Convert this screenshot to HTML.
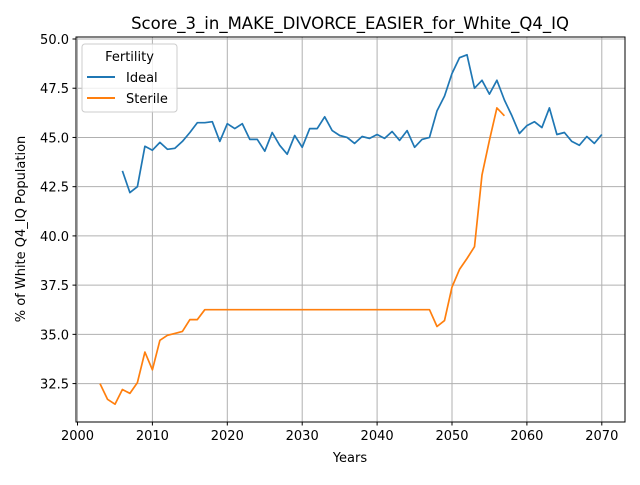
<!DOCTYPE html>
<html><head><meta charset="utf-8"><style>
body{margin:0;background:#fff;}
svg text{font-family:"DejaVu Sans","Liberation Sans",sans-serif;fill:#000;}
</style></head><body>
<svg id="chart" width="640" height="480" xmlns="http://www.w3.org/2000/svg">
<rect width="640" height="480" fill="#fff"/>
<g id="grid"></g>
<g id="series"></g>
<rect x="76" y="37" width="549" height="385" fill="none" stroke="#000" stroke-width="1"/>
<g id="ticks"></g>
<text x="350" y="29" font-size="16.5" text-anchor="middle">Score_3_in_MAKE_DIVORCE_EASIER_for_White_Q4_IQ</text>
<text x="350" y="462" font-size="13" text-anchor="middle">Years</text>
<text transform="translate(25,229) rotate(-90)" font-size="13" text-anchor="middle">% of White Q4_IQ Population</text>
<g>
<rect x="82" y="44" width="95" height="68" rx="3" fill="#fff" fill-opacity="0.8" stroke="#ccc"/>
<text x="129.5" y="61" font-size="13" text-anchor="middle">Fertility</text>
<line x1="87" y1="77" x2="115" y2="77" stroke="#1f77b4" stroke-width="2"/>
<text x="126" y="82" font-size="13">Ideal</text>
<line x1="87" y1="98" x2="115" y2="98" stroke="#ff7f0e" stroke-width="2"/>
<text x="126" y="103" font-size="13">Sterile</text>
</g>
</svg>
<script>
const idealYears = [];
for (let y = 2006; y <= 2070; y++) idealYears.push(y);
const idealValues = [43.3,42.2,42.5,44.55,44.35,44.75,44.4,44.45,44.8,45.25,45.75,45.75,45.8,44.8,45.7,45.45,45.7,44.9,44.9,44.3,45.25,44.6,44.15,45.1,44.5,45.45,45.45,46.05,45.35,45.1,45.0,44.7,45.05,44.95,45.15,44.95,45.3,44.85,45.35,44.5,44.9,45.0,46.35,47.1,48.25,49.05,49.2,47.5,47.9,47.2,47.9,46.9,46.1,45.2,45.6,45.8,45.5,46.5,45.15,45.25,44.8,44.6,45.05,44.7,45.15];
const sterileYears = [];
for (let y = 2003; y <= 2057; y++) sterileYears.push(y);
const sterileValues = [32.5,31.7,31.45,32.2,32.0,32.55,34.1,33.2,34.7,34.95,35.05,35.15,35.75,35.75,
36.25,36.25,36.25,36.25,36.25,36.25,36.25,36.25,36.25,36.25,36.25,36.25,36.25,36.25,36.25,36.25,36.25,36.25,36.25,36.25,36.25,36.25,36.25,36.25,36.25,36.25,36.25,36.25,36.25,36.25,36.25,
35.4,35.7,37.4,38.3,38.85,39.45,43.1,44.85,46.5,46.1];
const xTicks = [2000,2010,2020,2030,2040,2050,2060,2070];
const yTicks = [32.5,35.0,37.5,40.0,42.5,45.0,47.5,50.0];

const NS = "http://www.w3.org/2000/svg";
function xs(v){ return 77.5 + (v - 2000) * 7.49; }
function ys(v){ return 39 + (50 - v) * 19.69; }
function mk(tag, attrs, parent){ const e = document.createElementNS(NS, tag); for (const k in attrs) e.setAttribute(k, attrs[k]); parent.appendChild(e); return e; }

const grid = document.getElementById('grid');
const ticks = document.getElementById('ticks');
xTicks.forEach(t => {
  const g = mk('line', {x1: xs(t), x2: xs(t), y1: 37, y2: 422, stroke: '#b0b0b0', 'stroke-width': 1}, grid);
  
  
  mk('line', {x1: xs(t), x2: xs(t), y1: 422, y2: 425.5, stroke: '#000'}, ticks);
  const l = mk('text', {x: xs(t), y: 440, 'font-size': 13, 'text-anchor': 'middle'}, ticks);
  l.textContent = t;
  
  
});
yTicks.forEach(t => {
  const g = mk('line', {x1: 76, x2: 625, y1: ys(t), y2: ys(t), stroke: '#b0b0b0', 'stroke-width': 1}, grid);
  
  
  mk('line', {x1: 72.5, x2: 76, y1: ys(t), y2: ys(t), stroke: '#000'}, ticks);
  const l = mk('text', {x: 69, y: ys(t) + 5, 'font-size': 13, 'text-anchor': 'end'}, ticks);
  l.textContent = t.toFixed(1);
  
  
});
const series = document.getElementById('series');
function line(xsArr, vals, color, name){
  const pts = xsArr.map((x, i) => xs(x).toFixed(1) + ',' + ys(vals[i]).toFixed(1)).join(' ');
  const p = mk('polyline', {points: pts, fill: 'none', stroke: color, 'stroke-width': 1.7, 'stroke-linejoin': 'round'}, series);
  
  
}
line(idealYears, idealValues, '#1f77b4', 'ideal-line');
line(sterileYears, sterileValues, '#ff7f0e', 'sterile-line');
</script>
</body></html>
